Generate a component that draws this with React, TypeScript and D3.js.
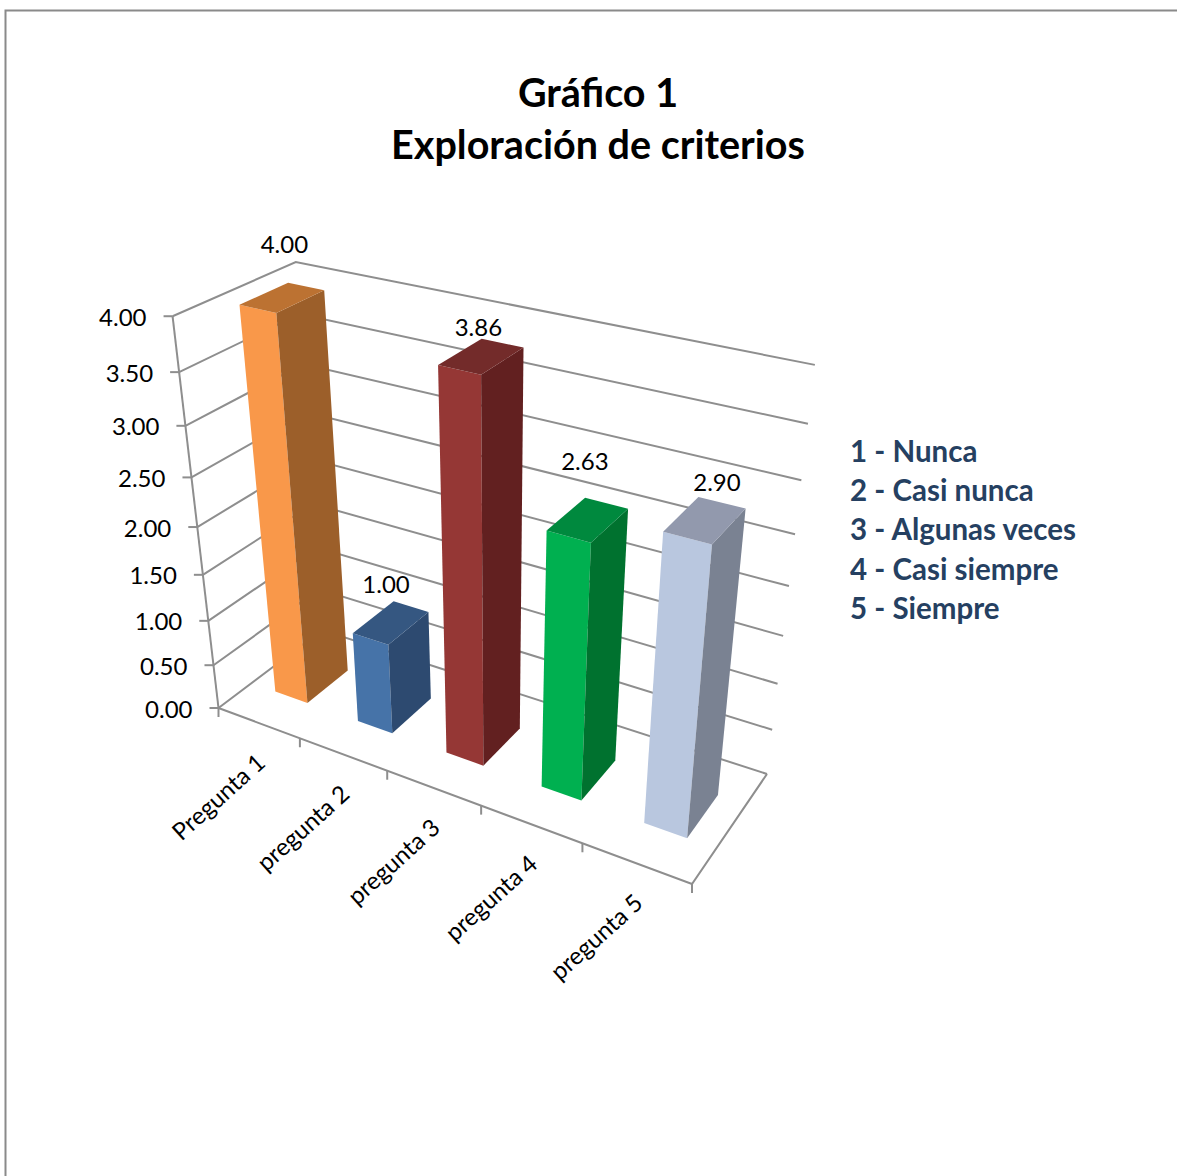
import React from "react";
import * as d3 from "d3";

const categories = ["Pregunta 1", "pregunta 2", "pregunta 3", "pregunta 4", "pregunta 5"];
const values = [4.0, 1.0, 3.86, 2.63, 2.9];
const valueTicks = [0, 0.5, 1, 1.5, 2, 2.5, 3, 3.5, 4];
const titleLines = ["Gráfico 1", "Exploración de criterios"];
const legendItems = ["1 - Nunca", "2 - Casi nunca", "3 - Algunas veces", "4 - Casi siempre", "5 - Siempre"];
const frontColors = ["#F9984A", "#4673A8", "#953735", "#00B050", "#B9C7DF"];
const sideColors = ["#9C5F2A", "#2D4A70", "#622020", "#00722F", "#7A8292"];
const topColors = ["#BC7232", "#355781", "#732B2A", "#00893E", "#9299AD"];

// layout: hand-placed data label nudges from the projected top centre of each bar
const labelNudges: [number, number][] = [[2, -54], [-5, -39], [-3, -30], [-3, -59], [12, -38]];

// floor quadrilateral in pixels (front-left, front-right, back-right, back-left)
const FL = [218.5, 708], FR = [692, 884], BR = [767, 774], BL = [322, 630];
const VP = [497, 3083]; // vanishing point of the verticals
const LIFT = 0.0354;
const LIFT_POWER = 0.85;
const LIFT_DEPTH = 0.007;

const sx = FL[0] - FR[0] + BR[0] - BL[0], sy = FL[1] - FR[1] + BR[1] - BL[1];
const dx1 = FR[0] - BR[0], dx2 = BL[0] - BR[0], dy1 = FR[1] - BR[1], dy2 = BL[1] - BR[1];
const den = dx1 * dy2 - dx2 * dy1;
const g = (sx * dy2 - dx2 * sy) / den, h = (dx1 * sy - sx * dy1) / den;
const a = FR[0] - FL[0] + g * FR[0], b = BL[0] - FL[0] + h * BL[0];
const d = FR[1] - FL[1] + g * FR[1], e = BL[1] - FL[1] + h * BL[1];

function project(u: number, v: number, z: number): [number, number] {
  const w = g * u + h * v + 1;
  const x0 = (a * u + b * v + FL[0]) / w, y0 = (d * u + e * v + FL[1]) / w;
  const f = 1 / (1 - (LIFT / Math.pow(w, LIFT_POWER)) * (1 - LIFT_DEPTH * v) * z);
  return [VP[0] + (x0 - VP[0]) * f, VP[1] + (y0 - VP[1]) * f];
}

const uScale = d3.scaleBand<number>().domain(d3.range(categories.length)).range([0, 1.008]).paddingInner(0).paddingOuter(0);
const barHalf = 0.04;
const depthRange: [number, number] = [0.3, 0.7];
const lineGen = d3.line();
const poly = (pts: [number, number][]) => lineGen(pts)! + "Z";

const FONT = "Lato, 'Open Sans', sans-serif";
const GRID = "#8E8E8E";

export default function App() {
  return (
    <svg width={1177} height={1176} viewBox="0 0 1177 1176" style={{ position: "absolute", left: 0, top: 0, background: "#fff" }} fontFamily={FONT}>
      <path d="M5.5 1176V10.5H1177" fill="none" stroke="#8A8A8A" strokeWidth={2} />
      {titleLines.map((t, i) => (
        <text key={t} x={598} y={91 + i * 52} textAnchor="middle" dominantBaseline="central" fontWeight={700} fontSize={39.5} fill="#000">{t}</text>
      ))}
      {/* gridlines on the two walls */}
      {valueTicks.map((t) => (
        <path key={t} d={lineGen([project(0, 0, t), project(0, 1, t), project(1, 1, t)])!} fill="none" stroke={GRID} strokeWidth={2} />
      ))}
      {/* axis and floor */}
      <path d={lineGen([project(0, 0, 0), project(0, 0, 4)])!} fill="none" stroke={GRID} strokeWidth={2} />
      <path d={lineGen([project(0, 0, 0), project(1, 0, 0), project(1, 1, 0)])!} fill="none" stroke={GRID} strokeWidth={2} />
      {valueTicks.map((t) => {
        const [x, y] = project(0, 0, t);
        return (
          <g key={t}>
            <line x1={x - 9} x2={x} y1={y} y2={y} stroke={GRID} strokeWidth={2} />
            <text x={x - 26} y={y} textAnchor="end" dominantBaseline="central" fontSize={24} fill="#000">{t.toFixed(2)}</text>
          </g>
        );
      })}
      {d3.range(categories.length + 1).map((i) => {
        const [x, y] = project(i / categories.length, 0, 0);
        return <line key={i} x1={x} x2={x} y1={y} y2={y + 9} stroke={GRID} strokeWidth={2} />;
      })}
      {categories.map((c, i) => {
        const [x, y] = project((i + 0.5) / categories.length, 0, 0);
        return (
          <text key={c} transform={`translate(${x + 2},${y + 35}) rotate(-42)`} textAnchor="end" dominantBaseline="central" fontSize={24} fill="#000">{c}</text>
        );
      })}
      {/* bars */}
      {values.map((val, i) => {
        const c = uScale(i)! + uScale.bandwidth() / 2;
        const u0 = c - barHalf, u1 = c + barHalf;
        const [v0, v1] = depthRange;
        const front = [project(u0, v0, 0), project(u1, v0, 0), project(u1, v0, val), project(u0, v0, val)];
        const side = [project(u1, v0, 0), project(u1, v1, 0), project(u1, v1, val), project(u1, v0, val)];
        const top = [project(u0, v0, val), project(u1, v0, val), project(u1, v1, val), project(u0, v1, val)];
        const [tx, ty] = project(c, 0.5, val);
        return (
          <g key={i}>
            <path d={poly(front)} fill={frontColors[i]} />
            <path d={poly(side)} fill={sideColors[i]} />
            <path d={poly(top)} fill={topColors[i]} />
            <text x={tx + labelNudges[i][0]} y={ty + labelNudges[i][1]} textAnchor="middle" dominantBaseline="central" fontSize={24} fill="#000">{val.toFixed(2)}</text>
          </g>
        );
      })}
      {legendItems.map((t, i) => (
        <text key={t} x={850} y={450.5 + i * 39.2} dominantBaseline="central" fontWeight={700} fontSize={29.5} fill="#254061">{t}</text>
      ))}
    </svg>
  );
}
